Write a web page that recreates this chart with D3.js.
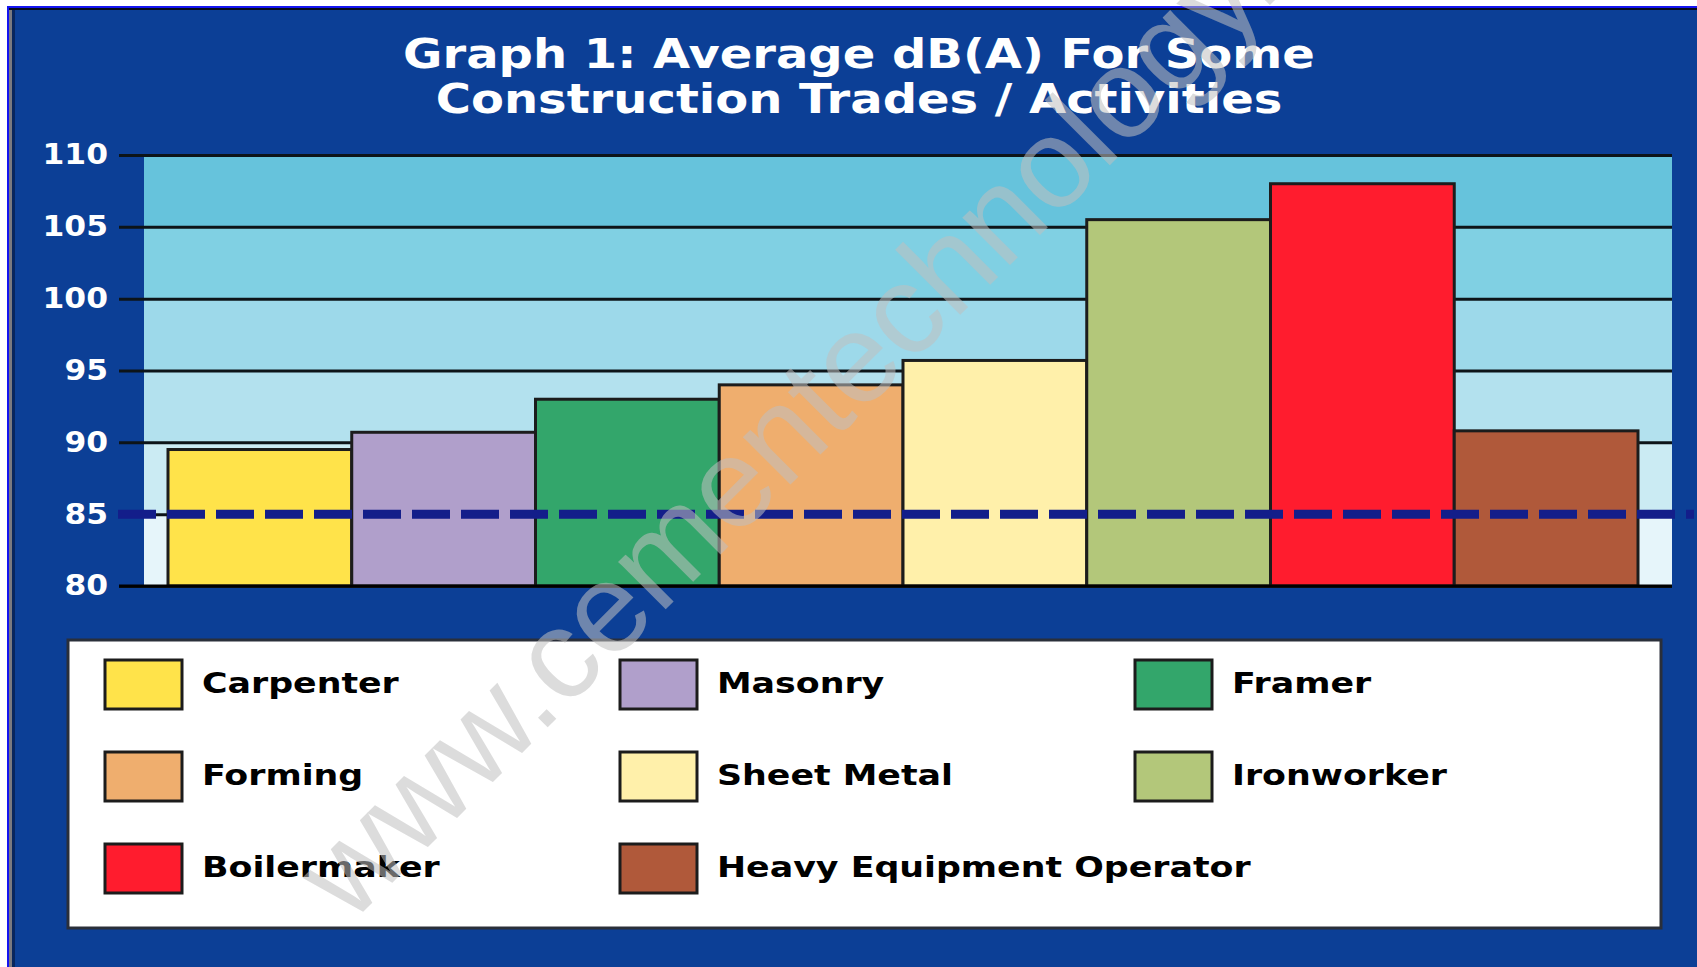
<!DOCTYPE html>
<html>
<head>
<meta charset="utf-8">
<script src="https://cdn.jsdelivr.net/npm/d3@7"></script>
<style>
     html, body { margin: 0; padding: 0; background: #ffffff; }
     svg { display: block; }
</style>
</head>
<body>
<svg id="chartSvg" width="1697" height="967"></svg>
<script>
// values
var categories = ['Carpenter', 'Masonry', 'Framer', 'Forming', 'Sheet Metal',
     'Ironworker', 'Boilermaker', 'Heavy Equipment Operator'];
var db_values = [89.5, 90.7, 93.0, 94.0, 95.7, 105.5, 108.0, 90.8];
var bar_colors = ['#ffe34a', '#b09fcb', '#33a66b', '#efae6e', '#fff0aa',
     '#b3c77a', '#ff1c2e', '#b0593a'];
var y_ticks = [80, 85, 90, 95, 100, 105, 110];
var limit_level = 85;
var band_colors = ['#e6f5fa', '#cbebf3', '#b3e1ee', '#9dd9ea', '#80d0e3', '#66c3dc'];
var title_lines = ['Graph 1: Average dB(A) For Some', 'Construction Trades / Activities'];
var watermark = 'www.cementechnology.com';

var svg = d3.select('#chartSvg');
var W = 1697, H = 967;
var stretch = 1.2;

// frame
svg.append('rect').attr('x', 7).attr('y', 6).attr('width', W).attr('height', H).attr('fill', '#1414f0');
svg.append('rect').attr('x', 9).attr('y', 8).attr('width', W).attr('height', H).attr('fill', '#050a1a');
svg.append('rect').attr('x', 9).attr('y', 10).attr('width', 3).attr('height', H).attr('fill', '#7a7a80');
svg.append('rect').attr('x', 12).attr('y', 10).attr('width', W).attr('height', H).attr('fill', '#0c3f96');
svg.append('rect').attr('x', 12).attr('y', 10).attr('width', 3).attr('height', H).attr('fill', '#08265e');

// title
title_lines.forEach(function (t, i) {
     svg.append('g')
          .attr('transform', 'translate(859,' + (68 + i * 45) + ') scale(' + stretch + ',1)')
          .append('text')
          .attr('text-anchor', 'middle')
          .style('font-family', 'DejaVu Sans')
          .style('font-weight', 'bold')
          .style('font-size', '40px')
          .attr('fill', '#ffffff')
          .text(t);
});

var plot = { left: 144, right: 1672, top: 155, bottom: 586 };

var y_scale = d3.scaleLinear()
     .domain([80, 110])
     .range([plot.bottom, plot.top]);

var x_scale = d3.scaleBand()
     .domain(categories)
     .range([168, 1638])
     .padding(0);

// background bands
svg.append('g').selectAll('rect')
     .data(band_colors)
     .enter()
     .append('rect')
     .attr('x', plot.left)
     .attr('width', plot.right - plot.left)
     .attr('y', (d, i) => y_scale(y_ticks[i + 1]))
     .attr('height', (d, i) => y_scale(y_ticks[i]) - y_scale(y_ticks[i + 1]))
     .attr('fill', d => d);

// axis + gridlines
var y_axis = d3.axisLeft(y_scale)
     .tickValues(y_ticks)
     .tickSizeInner(-(plot.right - 119))
     .tickSizeOuter(0)
     .tickPadding(10);

var axis_g = svg.append('g')
     .attr('transform', 'translate(119,0)')
     .call(y_axis);
axis_g.select('.domain').remove();
axis_g.selectAll('line')
     .attr('stroke', '#0d1418')
     .attr('stroke-width', 3);
axis_g.selectAll('text')
     .attr('fill', '#ffffff')
     .attr('x', -11 / 1.12)
     .attr('transform', 'scale(1.12,1)')
     .style('font-family', 'DejaVu Sans')
     .style('font-weight', 'bold')
     .style('font-size', '28px');

// bars
svg.append('g').selectAll('rect')
     .data(db_values)
     .enter()
     .append('rect')
     .attr('x', (d, i) => x_scale(categories[i]))
     .attr('y', d => y_scale(d))
     .attr('width', x_scale.bandwidth())
     .attr('height', d => y_scale(80) - y_scale(d))
     .attr('fill', (d, i) => bar_colors[i])
     .attr('stroke', '#1c1c1c')
     .attr('stroke-width', 3);

// bottom axis line
svg.append('line')
     .attr('x1', 119).attr('x2', plot.right)
     .attr('y1', y_scale(80)).attr('y2', y_scale(80))
     .attr('stroke', '#000000')
     .attr('stroke-width', 3);

// 85 dB(A) reference line
svg.append('line')
     .attr('x1', 118).attr('x2', 1694)
     .attr('y1', y_scale(limit_level)).attr('y2', y_scale(limit_level))
     .attr('stroke', '#131e8a')
     .attr('stroke-width', 9)
     .attr('stroke-dasharray', '38,11');

// legend
svg.append('rect')
     .attr('x', 68).attr('y', 640)
     .attr('width', 1593).attr('height', 288)
     .attr('fill', '#ffffff')
     .attr('stroke', '#2a2f3a')
     .attr('stroke-width', 3);

var legend = svg.append('g').selectAll('g')
     .data(categories)
     .enter()
     .append('g')
     .attr('transform', (d, i) => 'translate(' + (105 + (i % 3) * 515) + ',' + (660 + Math.floor(i / 3) * 92) + ')');

legend.append('rect')
     .attr('width', 77)
     .attr('height', 49)
     .attr('fill', (d, i) => bar_colors[i])
     .attr('stroke', '#1c1c1c')
     .attr('stroke-width', 3);

legend.append('g')
     .attr('transform', 'translate(97,33) scale(' + stretch + ',1)')
     .append('text')
     .attr('fill', '#000000')
     .style('font-family', 'DejaVu Sans')
     .style('font-weight', 'bold')
     .style('font-size', '29px')
     .text(d => d);

// watermark
svg.append('text')
     .attr('transform', 'translate(350,925) rotate(-45)')
     .attr('fill', '#c0c0c0')
     .attr('opacity', 0.55)
     .style('font-family', 'Liberation Sans')
     .style('font-size', '127px')
     .text(watermark);
</script>
</body>
</html>
